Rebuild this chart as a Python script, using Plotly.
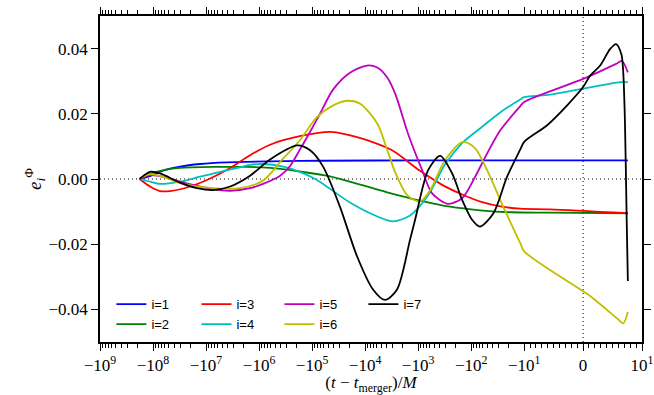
import numpy as np
import plotly.graph_objects as go

# (t - t_merger)/M samples and e_i^Phi values for each mode i
t1 = [-1.8e8, -1.14e8, -6.5e7, -3.1e7, -1.3e7, -4e6, -6e5, -7e4, -1e3, -10, 7.6]
e1 = [0, 0.0009, 0.0026, 0.0038, 0.0046, 0.0051, 0.0054, 0.0056, 0.0057, 0.0057, 0.0057]

t2 = [-1.8e8, -1.14e8, -5.9e7, -3.1e7, -7.4e6, -1.7e6, -6.2e5, -1.7e5, -4.6e4, -1.24e4,
      -3.4e3, -920, -250, -68, -18, -5.6, 7.6]
e2 = [0, 0.0016, 0.0028, 0.0034, 0.0037, 0.0037, 0.0034, 0.0023, 0.0008, -0.0017,
      -0.0043, -0.0066, -0.0085, -0.0096, -0.0102, -0.0103, -0.0105]

t3 = [-1.8e8, -1.14e8, -7.4e7, -4.8e7, -2.0e7, -9.6e6, -3.5e6, -1.48e6, -6.2e5, -3.5e5,
      -8.1e4, -4.0e4, -1.9e4, -9.2e3, -3.1e3, -920, -352, -155, -62, -28, -11.9, -5.6, 7.6]
e3 = [0, -0.0023, -0.0037, -0.0037, -0.0023, -0.0003, 0.0034, 0.0073, 0.0105, 0.0119,
      0.0141, 0.0144, 0.0134, 0.0119, 0.0088, 0.0025, -0.0018, -0.0046, -0.0071, -0.0084,
      -0.0091, -0.0093, -0.0105]

t4 = [-1.8e8, -1.14e8, -7.4e7, -3.1e7, -1.3e7, -5.4e6, -2.3e6, -1.48e6, -8.4e5, -3.5e5,
      -1.7e5, -8.1e4, -1.9e4, -5.9e3, -3.0e3, -1.42e3, -647, -310, -148, -68, -28, -11.9,
      -10, -5.6, 0, 6.3, 7.6]
e4 = [0, -0.0008, -0.0015, -0.0008, 0.0007, 0.0022, 0.0036, 0.0043, 0.0046, 0.0038,
      0.0022, -0.0003, -0.0073, -0.0115, -0.0130, -0.0112, -0.0050, 0.0045, 0.0110, 0.0155,
      0.0205, 0.0244, 0.0251, 0.0259, 0.0277, 0.0297, 0.0297]

t5 = [-1.8e8, -1.14e8, -5.9e7, -3.1e7, -7.4e6, -3.5e6, -1.48e6, -8.4e5, -4.0e5, -2.6e5,
      -1.7e5, -1.09e5, -7.1e4, -4.0e4, -1.9e4, -9.2e3, -5.9e3, -3.85e3, -2.7e3, -1.55e3,
      -840, -545, -272, -148, -84, -54, -28, -11.9, -10, 0, 5.8, 6.6, 7.6]
e5 = [0, 0.0012, 0.0006, -0.0008, -0.0031, -0.0036, -0.0028, -0.0015, 0.0010, 0.0040,
      0.0090, 0.0145, 0.0200, 0.0275, 0.0327, 0.0348, 0.0342, 0.0312, 0.0261, 0.0139,
      0.0027, -0.0044, -0.0076, -0.0059, 0.0007, 0.0068, 0.0150, 0.0223, 0.0236, 0.0307,
      0.0355, 0.0362, 0.0327]

t6 = [-1.8e8, -1.14e8, -5.9e7, -3.1e7, -7.4e6, -2.3e6, -8.4e5, -3.5e5, -1.7e5, -8.1e4,
      -4.0e4, -2.1e4, -1.24e4, -5.9e3, -3.85e3, -2.7e3, -1.6e3, -920, -594, -310, -142,
      -84, -50, -25, -11.9, -10, 0, 1.2, 5.8, 6.8, 7.6]
e6 = [0, 0.0015, 0.0005, -0.0013, -0.0028, -0.0028, -0.0005, 0.0063, 0.0119, 0.0190,
      0.0226, 0.0240, 0.0231, 0.0170, 0.0090, 0.0020, -0.0050, -0.0069, -0.0035, 0.0058,
      0.0114, 0.0094, 0.0027, -0.0084, -0.0196, -0.0222, -0.0344, -0.0359, -0.0428,
      -0.0443, -0.0408]

t7 = [-1.8e8, -1.14e8, -7.4e7, -3.1e7, -1.48e7, -7.4e6, -3.5e6, -1.48e6, -6.2e5, -1.9e5,
      -1.09e5, -6.2e4, -3.0e4, -1.42e4, -7.1e3, -4.2e3, -2.5e3, -1.42e3, -1.14e3, -647,
      -385, -228, -148, -96, -68, -38, -21, -11.9, -10, -6.1, -2.7, 0, 1.2, 2.9, 4.6,
      5.6, 6.5, 6.8, 7.1, 7.4, 7.6]
e7 = [0, 0.0022, 0.0017, -0.0011, -0.0028, -0.0034, -0.0023, 0.0010, 0.0060, 0.0103,
      0.0088, 0.0038, -0.0084, -0.0237, -0.0339, -0.0371, -0.0339, -0.0186, -0.0125, 0.0027,
      0.0071, 0.0017, -0.0064, -0.0125, -0.0146, -0.0105, 0.0007, 0.0090, 0.0114, 0.0165,
      0.0226, 0.0282, 0.0317, 0.0348, 0.0399, 0.0414, 0.0383, 0.0332, 0.0180, -0.0125,
      -0.0313]

labels = ["i=1", "i=2", "i=3", "i=4", "i=5", "i=6", "i=7"]
colors = ["#0000ff", "#008000", "#ff0000", "#00bfbf", "#bf00bf", "#bfbf00", "#000000"]
legend_ids = ["legend", "legend", "legend2", "legend2", "legend3", "legend3", "legend4"]

y_ticks = [-0.04, -0.02, 0.0, 0.02, 0.04]
y_ticktext = ["\u22120.04", "\u22120.02", "0.00", "0.02", "0.04"]

x_major = [-1e9, -1e8, -1e7, -1e6, -1e5, -1e4, -1e3, -1e2, -1e1, 0, 1e1]
x_ticktext = ["\u221210<sup>%d</sup>" % p for p in range(9, 0, -1)] + ["0", "10<sup>1</sup>"]

# symmetric-log axis: linear for |t| <= 10, logarithmic beyond (linscale = 1)
LINTHRESH = 10.0
LIN_ADJ = 1.0 / (1.0 - 1.0 / 10.0)


def symlog(t):
    t = np.asarray(t, dtype=float)
    a = np.abs(t)
    logpart = np.sign(t) * (LIN_ADJ + np.log10(np.maximum(a, LINTHRESH) / LINTHRESH))
    return np.where(a <= LINTHRESH, t / LINTHRESH * LIN_ADJ, logpart)


x_minor = [-k * 10.0 ** n for n in range(1, 9) for k in range(2, 10)]
x_minor += [float(k) for k in range(-9, 10) if k != 0]

series_t = [t1, t2, t3, t4, t5, t6, t7]
series_e = [e1, e2, e3, e4, e5, e6, e7]

fig = go.Figure()
for t, e, name, c, lg in zip(series_t, series_e, labels, colors, legend_ids):
    fig.add_trace(go.Scatter(
        x=symlog(t), y=e, mode="lines", name=name, legend=lg,
        line=dict(color=c, width=1.8, shape="spline", smoothing=0.8),
    ))

# dotted reference lines at e = 0 and t = t_merger
dotted = dict(color="black", width=1, dash="1px,3px")
fig.add_shape(type="line", xref="paper", yref="y", x0=0, x1=1, y0=0, y1=0,
              line=dotted, layer="below")
fig.add_shape(type="line", xref="x", yref="paper", x0=float(symlog(0)), x1=float(symlog(0)),
              y0=0, y1=1, line=dotted, layer="below")

axis_common = dict(
    showline=True, linewidth=1.6, linecolor="black", mirror="ticks",
    ticks="outside", ticklen=7, tickwidth=1.3, tickcolor="black",
    showgrid=False, zeroline=False, automargin=False,
    tickfont=dict(family="Liberation Serif", size=17, color="black"),
)

fig.update_xaxes(
    range=[float(symlog(-1e9)), float(symlog(10))],
    tickmode="array", tickvals=symlog(x_major).tolist(), ticktext=x_ticktext,
    minor=dict(tickmode="array", tickvals=symlog(x_minor).tolist(), ticks="outside",
               ticklen=4, tickwidth=1, tickcolor="black"),
    title=dict(text="(<i>t</i> \u2212 <i>t</i><sub>merger</sub>)/<i>M</i>",
               font=dict(family="Liberation Serif", size=17, color="black"), standoff=8),
    **axis_common,
)
fig.update_yaxes(
    range=[-0.05, 0.05],
    tickmode="array", tickvals=y_ticks, ticktext=y_ticktext,
    title=dict(text="<i>e</i><sub><i>i</i></sub><sup>\u03a6</sup>",
               font=dict(family="Liberation Serif", size=19, color="black"), standoff=2),
    **axis_common,
)

legend_style = dict(yanchor="top", xanchor="left", y=0.162, bgcolor="rgba(0,0,0,0)",
                    font=dict(family="Liberation Sans", size=13, color="black"),
                    tracegroupgap=0, itemwidth=30)
fig.update_layout(
    template="none",
    width=654, height=395,
    margin=dict(l=100, r=12, t=16, b=53),
    plot_bgcolor="white", paper_bgcolor="white",
    font=dict(family="Liberation Serif", size=15, color="black"),
    legend=dict(x=0.021, **legend_style),
    legend2=dict(x=0.178, **legend_style),
    legend3=dict(x=0.331, **legend_style),
    legend4=dict(x=0.486, **legend_style),
)

fig.write_html("out.html")
